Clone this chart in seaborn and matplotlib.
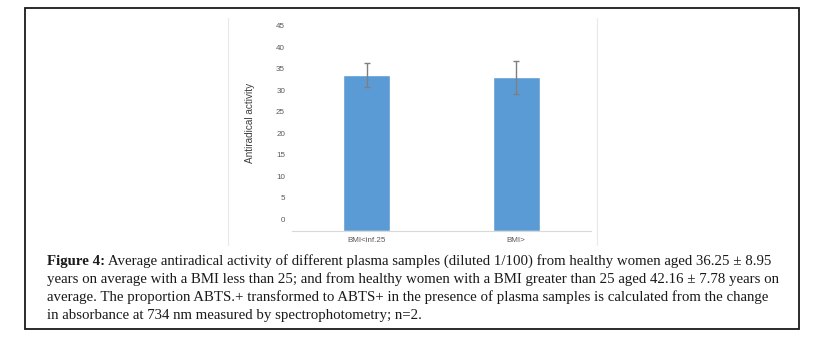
import matplotlib
matplotlib.use('Agg')
import matplotlib.pyplot as plt
import matplotlib.transforms as mtransforms
from matplotlib.lines import Line2D
from matplotlib.patches import Rectangle
import seaborn as sns
import pandas as pd

groups = ['BMI<inf.25', 'BMI>']
activity = [36.3, 35.8]
activity_err = [2.8, 3.85]
yticks = [0, 5, 10, 15, 20, 25, 30, 35, 40, 45]

caption_head = 'Figure 4:'
caption_lines = [
    ' Average antiradical activity of different plasma samples (diluted 1/100) from healthy women aged 36.25 \u00b1 8.95',
    'years on average with a BMI less than 25; and from healthy women with a BMI greater than 25 aged 42.16 \u00b1 7.78 years on',
    'average. The proportion ABTS.+ transformed to ABTS+ in the presence of plasma samples is calculated from the change',
    'in absorbance at 734 nm measured by spectrophotometry; n=2.',
]

sns.set_style('white')
plt.rcParams['font.family'] = ['Liberation Sans', 'DejaVu Sans']

W, H = 837, 339
fig = plt.figure(figsize=(W / 100, H / 100), dpi=100)
ax = fig.add_axes([292 / W, 1 - 231 / H, 299 / W, 193 / H])

df = pd.DataFrame({'group': groups, 'activity': activity})
sns.barplot(data=df, x='group', y='activity', color='#5B9BD5', width=0.315,
            errorbar=None, saturation=1, ax=ax)
ax.errorbar(range(len(groups)), activity, yerr=activity_err, fmt='none',
            ecolor='#7f7f7f', elinewidth=1, capsize=2.5, capthick=1)

ax.set_xlim(-0.5, 1.5)
ax.set_ylim(0, 45)
ax.set_yticks(yticks)
ax.set_xlabel('')
ax.set_ylabel('Antiradical activity', fontsize=7.2, color='#404040')
ax.yaxis.set_label_coords(-0.124, 0.56)
ax.tick_params(axis='y', length=0, pad=5, labelsize=5.8, labelcolor='#595959')
ax.tick_params(axis='x', length=0, pad=4, labelsize=5.8, labelcolor='#595959')
for side in ['top', 'right', 'left']:
    ax.spines[side].set_visible(False)
ax.spines['bottom'].set_color('#d9d9d9')
ax.spines['bottom'].set_linewidth(0.8)

# value labels sit a bit above their ticks in the original
offset = mtransforms.ScaledTranslation(0, 12 / 100, fig.dpi_scale_trans)
for lbl in ax.get_yticklabels():
    lbl.set_transform(lbl.get_transform() + offset)

# chart frame and figure box
for xp in [228, 597]:
    fig.add_artist(Line2D([xp / W, xp / W], [1 - 18 / H, 1 - 245 / H],
                          color='#e8e8e8', lw=0.8))
fig.add_artist(Rectangle((25 / W, 1 - 329 / H), (799 - 25) / W, (329 - 8) / H,
                         transform=fig.transFigure, fill=False,
                         ec='#1a1a1a', lw=1.3))

# caption
cap_font = dict(family='Liberation Serif', size=10.75, color='#1a1a1a')
renderer = fig.canvas.get_renderer()
line_y = [261, 279, 297, 315]
head = fig.text(47 / W, 1 - line_y[0] / H, caption_head, va='center',
                fontweight='bold', **cap_font)
bb = head.get_window_extent(renderer=renderer)
fig.text(bb.x1 / W, 1 - line_y[0] / H, caption_lines[0], va='center', **cap_font)
for y, line in zip(line_y[1:], caption_lines[1:]):
    fig.text(47 / W, 1 - y / H, line, va='center', **cap_font)

fig.savefig('out.png', dpi=100)
